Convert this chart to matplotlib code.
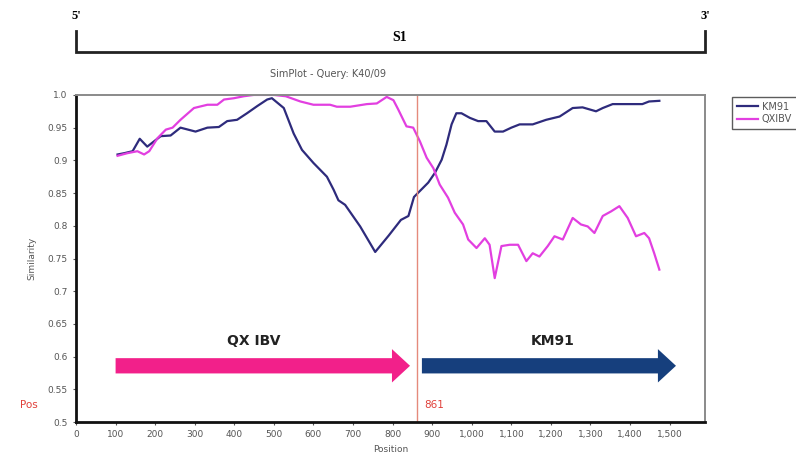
import numpy as np
import matplotlib.pyplot as plt
from matplotlib.patches import FancyArrowPatch
from matplotlib.ticker import FuncFormatter

# SimPlot similarity traces (query K40/09)
km91_pos = [105, 122, 143, 161, 180, 197, 214, 239, 264, 302, 332, 361, 382, 407, 432,
            458, 483, 495, 525, 550, 571, 600, 634, 651, 663, 680, 718, 756, 790, 821,
            840, 854, 867, 890, 907, 924, 936, 949, 961, 974, 995, 1016, 1037, 1058, 1079,
            1100, 1121, 1154, 1188, 1222, 1255, 1280, 1297, 1314, 1331, 1356, 1390, 1431,
            1448, 1474]
km91_sim = [0.909, 0.911, 0.914, 0.933, 0.921, 0.929, 0.937, 0.938, 0.950, 0.944, 0.950,
            0.951, 0.960, 0.962, 0.972, 0.983, 0.993, 0.995, 0.980, 0.941, 0.916, 0.896,
            0.875, 0.855, 0.839, 0.832, 0.799, 0.760, 0.785, 0.809, 0.815, 0.844, 0.852,
            0.866, 0.881, 0.901, 0.924, 0.955, 0.972, 0.972, 0.965, 0.960, 0.960, 0.944,
            0.944, 0.950, 0.955, 0.955, 0.962, 0.967, 0.980, 0.981, 0.978, 0.975, 0.980,
            0.986, 0.986, 0.986, 0.990, 0.991]

qx_pos = [105, 130, 155, 172, 185, 206, 227, 244, 264, 298, 332, 357, 374, 399, 424, 449,
          500, 530, 567, 600, 642, 659, 693, 735, 760, 785, 802, 814, 835, 852, 869, 886,
          903, 919, 940, 957, 978, 991, 1012, 1033, 1045, 1058, 1075, 1096, 1117, 1138,
          1154, 1171, 1192, 1209, 1230, 1255, 1276, 1293, 1310, 1331, 1352, 1373, 1394,
          1415, 1436, 1448, 1461, 1474]
qx_sim = [0.907, 0.911, 0.914, 0.909, 0.914, 0.934, 0.947, 0.950, 0.962, 0.980, 0.985,
          0.985, 0.993, 0.995, 0.998, 1.0, 1.0, 0.998, 0.990, 0.985, 0.985, 0.982, 0.982,
          0.986, 0.987, 0.997, 0.992, 0.978, 0.952, 0.950, 0.929, 0.904, 0.888, 0.863,
          0.843, 0.820, 0.802, 0.779, 0.766, 0.781, 0.771, 0.720, 0.769, 0.771, 0.771,
          0.746, 0.758, 0.753, 0.769, 0.784, 0.779, 0.812, 0.802, 0.799, 0.789, 0.815,
          0.822, 0.830, 0.812, 0.784, 0.789, 0.781, 0.758, 0.733]

breakpoint_pos = 861
x_ticks = list(range(0, 1501, 100))
y_ticks = [0.5, 0.55, 0.6, 0.65, 0.7, 0.75, 0.8, 0.85, 0.9, 0.95, 1.0]
y_tick_labels = ["0.5", "0.55", "0.6", "0.65", "0.7", "0.75", "0.8", "0.85", "0.9", "0.95", "1.0"]

# arrows for the two parental regions: (start, end, level, label)
qx_region = (100, 844, 0.586, "QX IBV")
km_region = (874, 1516, 0.586, "KM91")

fig = plt.figure(figsize=(7.96, 4.70), dpi=100)
ax = fig.add_axes([0.0955, 0.102, 0.7905, 0.696])

ax.plot(km91_pos, km91_sim, color="#2e2b7c", lw=1.6, label="KM91")
ax.plot(qx_pos, qx_sim, color="#e23fe0", lw=1.6, label="QXIBV")
ax.axvline(breakpoint_pos, color="#e58a7c", lw=1.0)

ax.set_xlim(0, 1590)
ax.set_ylim(0.5, 1.0)
ax.set_xticks(x_ticks)
ax.xaxis.set_major_formatter(FuncFormatter(lambda v, p: f"{int(v):,}"))
ax.set_yticks(y_ticks)
ax.set_yticklabels(y_tick_labels)
ax.tick_params(labelsize=6.5, labelcolor="#555555", length=2.5, width=0.8, color="#555555")

for s in ["left", "bottom"]:
    ax.spines[s].set_linewidth(2.0)
    ax.spines[s].set_color("#111111")
for s in ["top", "right"]:
    ax.spines[s].set_linewidth(1.4)
    ax.spines[s].set_color("#8a8a8a")

ax.set_xlabel("Position", fontsize=6.5, color="#555555", labelpad=4)
ax.set_ylabel("Similarity", fontsize=6.5, color="#555555", labelpad=8)
ax.set_title("SimPlot - Query: K40/09", fontsize=7, color="#555555", pad=13, x=0.40)

# region arrows
for (x0, x1, yy, lab), col in [(qx_region, "#f2208a"), (km_region, "#163f7d")]:
    arr = FancyArrowPatch((x0, yy), (x1, yy),
                          arrowstyle="simple,head_length=13,head_width=24,tail_width=11",
                          mutation_scale=1, shrinkA=0, shrinkB=0,
                          color=col, lw=0)
    ax.add_patch(arr)
ax.text(448, 0.624, qx_region[3], ha="center", va="center", fontsize=10,
        fontweight="bold", color="#222222")
ax.text(1204, 0.624, km_region[3], ha="center", va="center", fontsize=10,
        fontweight="bold", color="#222222")

ax.text(880, 0.526, str(breakpoint_pos), ha="left", va="center", fontsize=7.5,
        color="#e0403a")
fig.text(20 / 796, 1 - 405 / 470, "Pos", ha="left", va="center", fontsize=7.5,
         color="#e0403a")

# S1 gene bracket above the plot
tr = ax.transAxes
ax.plot([0, 0, 1, 1], [1.195, 1.131, 1.131, 1.195], transform=tr, clip_on=False,
        color="#222222", lw=2.0, solid_joinstyle="miter")
ax.text(0, 1.24, "5'", transform=tr, ha="center", va="center", fontsize=9,
        fontweight="bold", family="Liberation Serif")
ax.text(1, 1.24, "3'", transform=tr, ha="center", va="center", fontsize=9,
        fontweight="bold", family="Liberation Serif")
ax.text(0.515, 1.177, "S1", transform=tr, ha="center", va="center", fontsize=10,
        fontweight="bold", family="Liberation Serif")

leg = fig.legend(loc="upper left", bbox_to_anchor=(727 / 796, 1 - 92 / 470),
                 fontsize=7, frameon=True, fancybox=False, borderpad=0.5,
                 handlelength=2.2, handletextpad=0.4, labelspacing=0.25)
leg.get_frame().set_edgecolor("#333333")
leg.get_frame().set_linewidth(1.0)
for t in leg.get_texts():
    t.set_color("#555555")

fig.savefig("out.png", dpi=100)
